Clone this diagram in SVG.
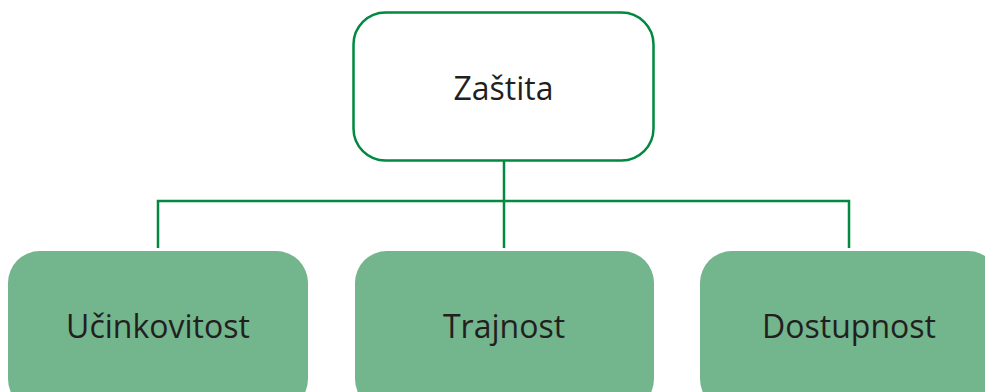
<svg xmlns="http://www.w3.org/2000/svg" width="985" height="392" viewBox="0 0 985 392">
<style>
.lbl{font-family:"Open Sans","Noto Sans",sans-serif;font-size:32px;fill:#231f20;text-anchor:middle}
.leaf{fill:#73b58c}
.con{stroke:#00893f;stroke-width:2.5;fill:none}
</style>
<rect width="985" height="392" fill="#ffffff"/>
<g id="connectors">
<path class="con" d="M504 161V248M158 248V201H849V248"/>
</g>
<g id="root">
<rect x="353.5" y="12.5" width="300" height="148" rx="32" fill="#ffffff" stroke="#00893f" stroke-width="2.5"/>
<text class="lbl" x="503.5" y="100">Zaštita</text>
</g>
<g id="ucinkovitost">
<rect class="leaf" x="8" y="251" width="300" height="160" rx="32"/>
<text class="lbl" x="158" y="338">Učinkovitost</text>
</g>
<g id="trajnost">
<rect class="leaf" x="355" y="251" width="299" height="160" rx="32"/>
<text class="lbl" x="504" y="338">Trajnost</text>
</g>
<g id="dostupnost">
<rect class="leaf" x="700" y="251" width="300" height="160" rx="32"/>
<text class="lbl" x="849" y="338">Dostupnost</text>
</g>
</svg>
